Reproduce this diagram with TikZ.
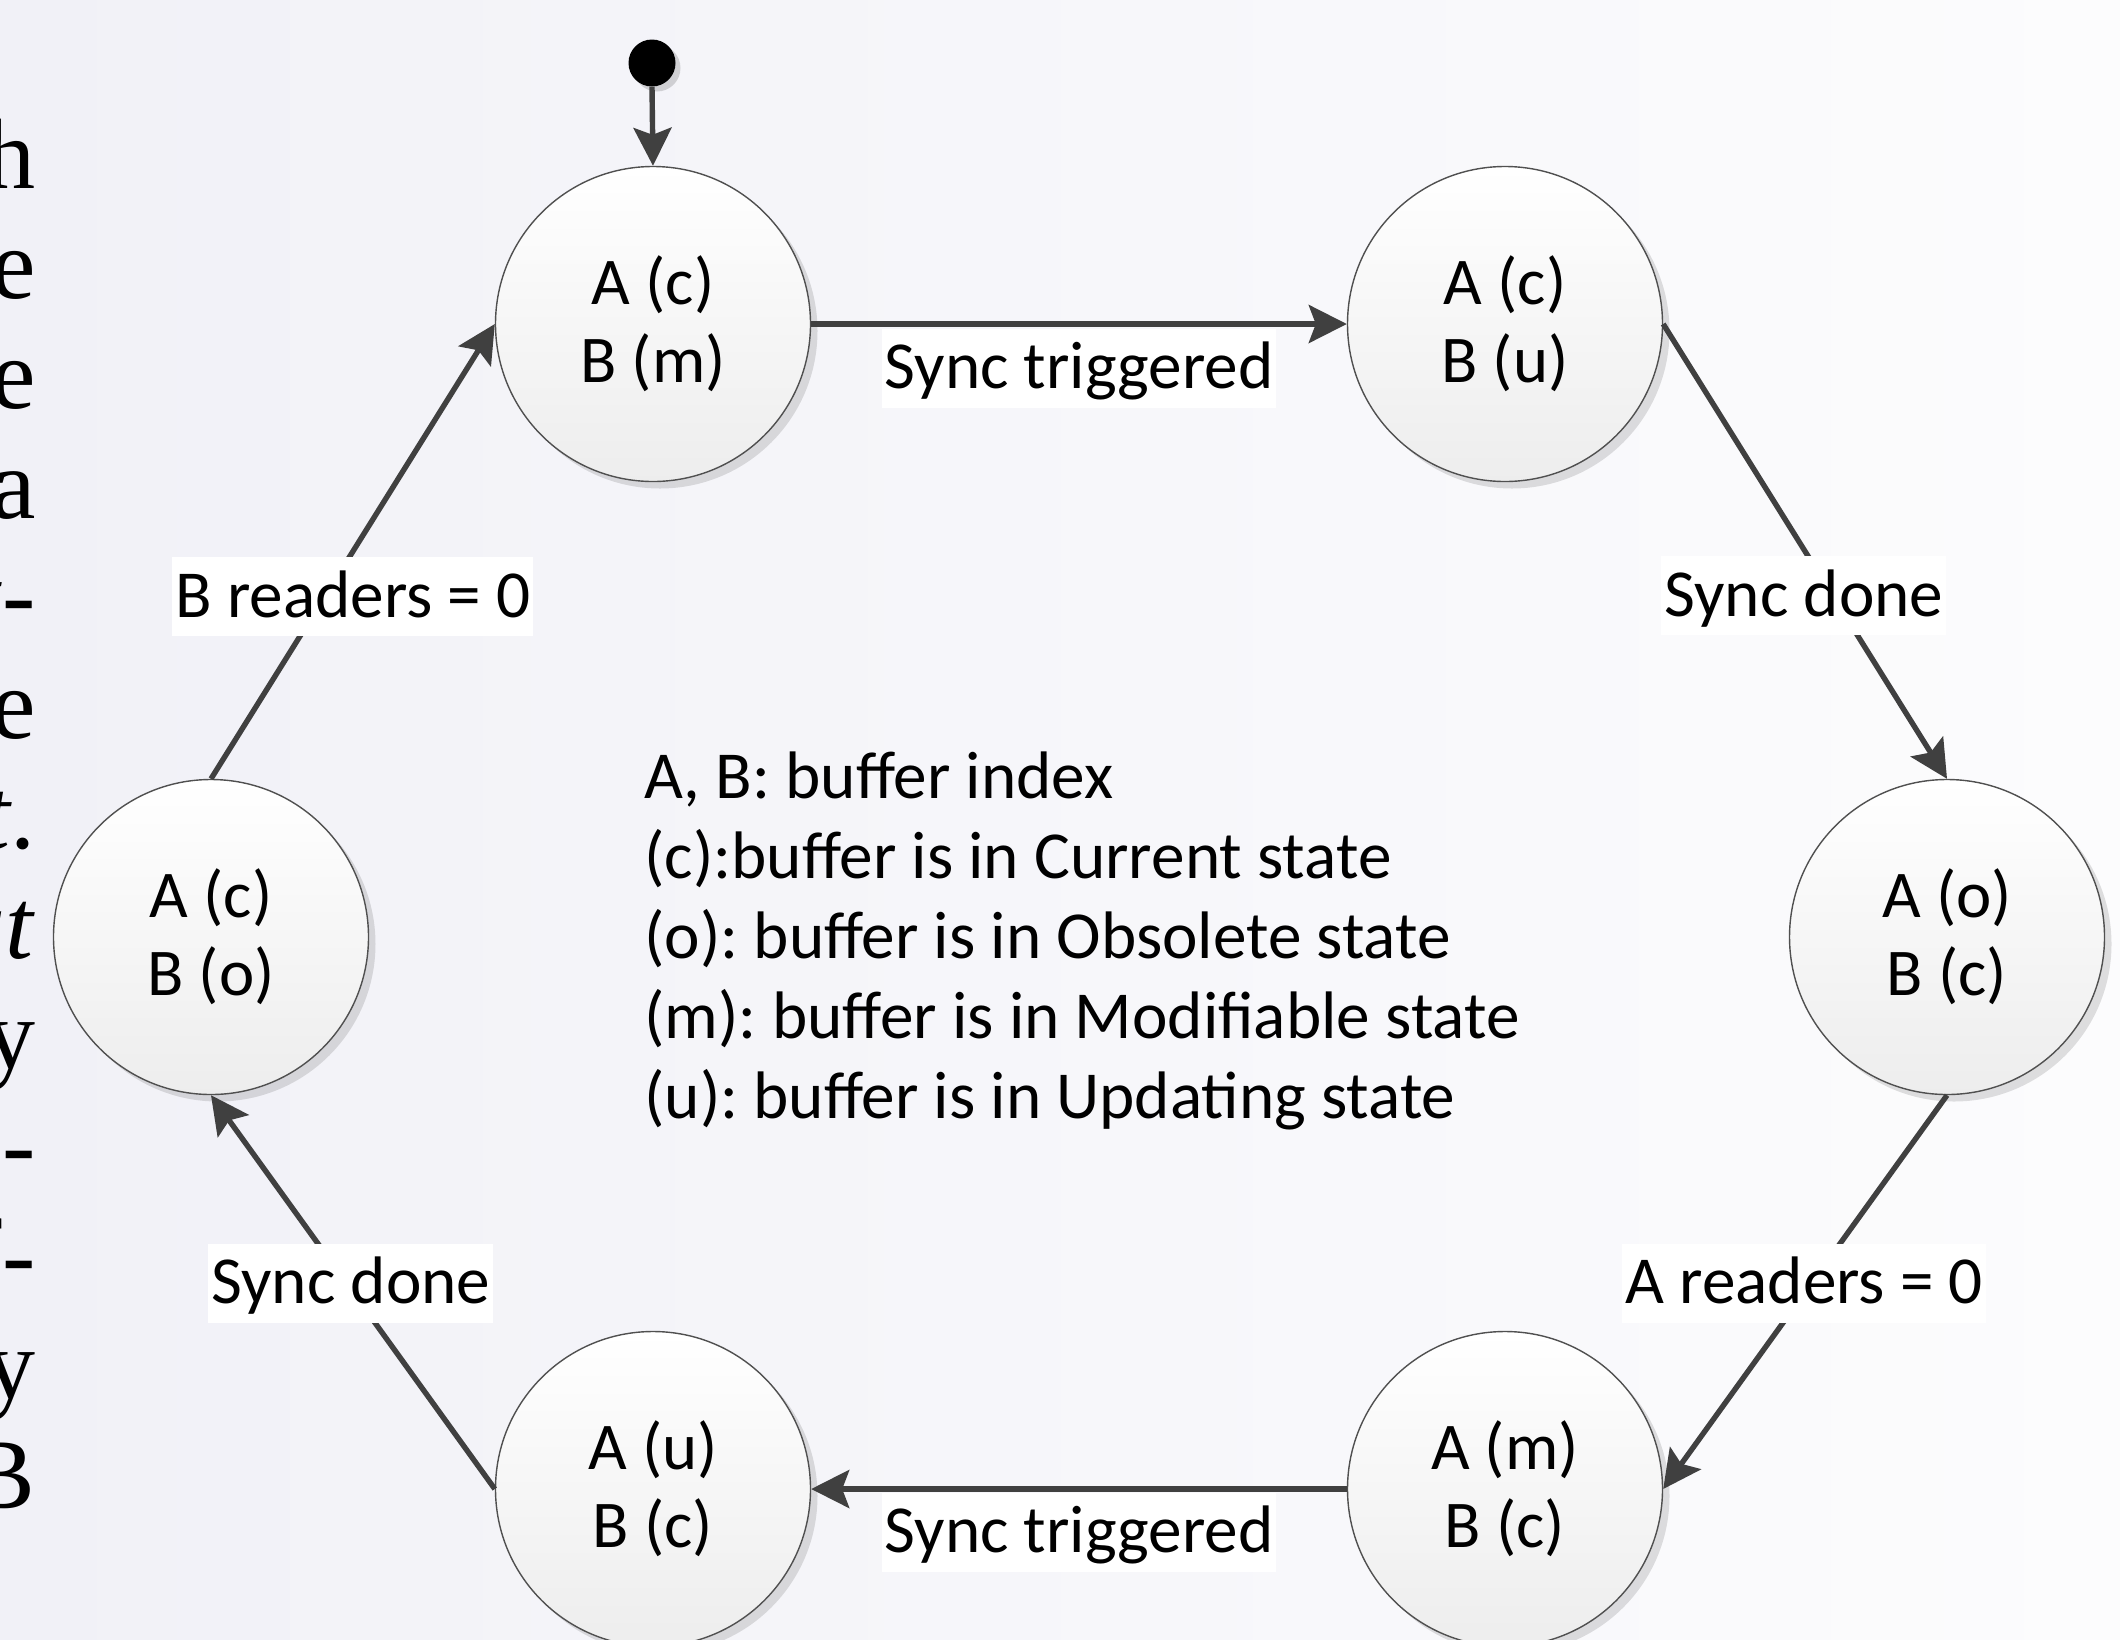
\documentclass[tikz,border=0pt]{standalone}
\usepackage{fontspec}
\setmainfont{Carlito}
\newfontfamily\tnr{Liberation Serif}
\usetikzlibrary{arrows.meta,shadows}
\definecolor{edgegray}{RGB}{64,64,64}
\definecolor{ringgray}{RGB}{80,80,80}
\definecolor{bgleft}{RGB}{241,241,247}
\definecolor{bgright}{RGB}{252,252,253}
\frenchspacing
\begin{document}
\begin{tikzpicture}[x=0.5pt,y=-0.5pt,
  state/.style={circle, draw=ringgray, line width=0.7pt, minimum size=157.5pt, inner sep=0pt,
    top color=white, bottom color=black!7,
    drop shadow={shadow xshift=3.5pt, shadow yshift=-3.5pt, fill=black, opacity=0.12},
    align=center, font=\fontsize{33.4}{39}\selectfont},
  lbl/.style={fill=white, inner xsep=1.5pt, inner ysep=3.5pt, text height=26.5pt, text depth=6pt,
    font=\fontsize{33.6}{39}\selectfont},
  arr/.style={draw=edgegray, line width=2.7pt, -{Stealth[length=19pt,width=19pt,inset=3.5pt]}},
  margintext/.style={anchor=base east, inner sep=0pt, font=\tnr\fontsize{50}{60}\selectfont}
]
\useasboundingbox (0,0) rectangle (2120,1639);
\clip (0,0) rectangle (2120,1639);
\shade[left color=bgleft, right color=bgright] (0,0) rectangle (2120,1639);

% cropped text of the neighbouring column
\foreach \w [count=\i from 0] in {h,e,e,a,{\textit{t}-},e,{\textit{t}.},{\textit{at}},y,{s-},{f-},y,B}
  \node[margintext] (m\i) at (36,{188+110*\i}) {\w};

% states
\node[state] (tl) at (653,324) {A (c)\\B (m)};
\node[state] (tr) at (1505,324) {A (c)\\B (u)};
\node[state] (r) at (1947,937) {A (o)\\B (c)};
\node[state] (br) at (1505,1489) {A (m)\\B (c)};
\node[state] (bl) at (653,1489) {A (u)\\B (c)};
\node[state] (l) at (211,937) {A (c)\\B (o)};

% initial pseudo-state
\node[circle, fill=black, minimum size=23.5pt, inner sep=0pt,
  drop shadow={shadow xshift=2.5pt, shadow yshift=-2.5pt, fill=black, opacity=0.15}] (init) at (652,63) {};
\draw[arr] (init.south) -- (tl.north);

% transitions
\draw[arr] (tl.east) -- node[lbl, pos=0.5, yshift=-22pt] (lab1) {Sync triggered} (tr.west);
\draw[arr] (tr.east) -- node[lbl, pos=0.598, xshift=-14.5pt] (lab2) {Sync done} (r.north);
\draw[arr] (r.south) -- node[lbl, pos=0.477, xshift=-3.75pt] (lab3) {A readers = 0} (br.east);
\draw[arr] (br.west) -- node[lbl, pos=0.5, yshift=-21.5pt] (lab4) {Sync triggered} (bl.east);
\draw[arr] (bl.west) -- node[lbl, pos=0.523, xshift=2.25pt] (lab5) {Sync done} (l.south);
\draw[arr] (l.north) -- node[lbl, pos=0.4, xshift=14.2pt] (lab6) {B readers = 0} (tl.west);

% legend
\node[anchor=west, inner sep=0pt, align=left, font=\fontsize{33.6}{40}\selectfont] (legend) at (644,941)
  {A, B: buffer index\\(c):buffer is in Current state\\(o): buffer is in Obsolete state\\(m): buffer is in Modifiable state\\(u): buffer is in Updating state};
\end{tikzpicture}
\end{document}
